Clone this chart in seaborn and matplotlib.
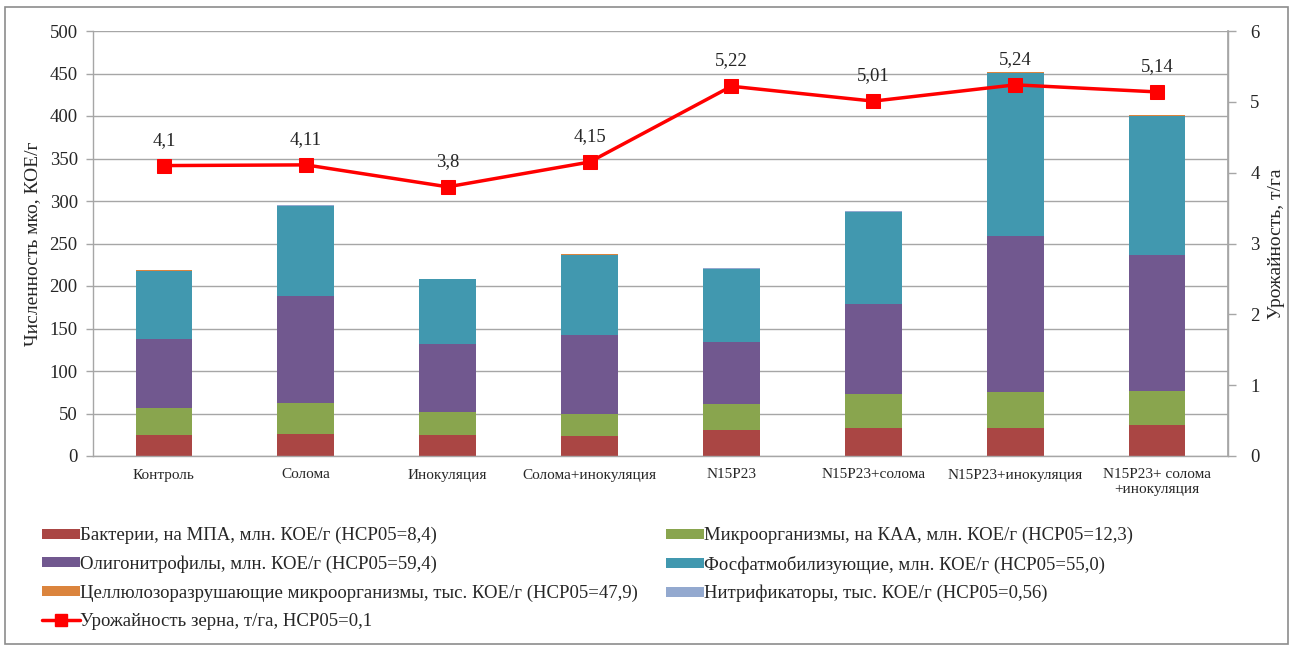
import matplotlib
matplotlib.use("Agg")
import matplotlib.pyplot as plt
import numpy as np
import pandas as pd
import seaborn as sns
from matplotlib.lines import Line2D
from matplotlib.patches import Patch, Rectangle

# ---------------------------------------------------------------------------
# Data
# ---------------------------------------------------------------------------
CATEGORIES = [
    "Контроль",
    "Солома",
    "Инокуляция",
    "Солома+инокуляция",
    "N15P23",
    "N15P23+солома",
    "N15P23+инокуляция",
    "N15P23+ солома\n+инокуляция",
]
BACTERIA = [25, 26, 25, 24, 31, 33, 33, 37]
KAA = [32, 36, 27, 25, 30, 40, 42, 40]
OLIGO = [81, 126, 80, 93, 73, 106, 184, 160]
PHOSPH = [80, 106, 76, 95, 86, 108, 192, 163]
CELLULOSE = [0.6, 0.5, 0.5, 0.6, 0.5, 0.5, 0.6, 1.2]
NITRIF = [0.3, 0.3, 0.3, 0.3, 0.3, 0.3, 0.3, 0.3]
YIELD = [4.1, 4.11, 3.8, 4.15, 5.22, 5.01, 5.24, 5.14]
YIELD_LABELS = ["4,1", "4,11", "3,8", "4,15", "5,22", "5,01", "5,24", "5,14"]

SERIES = [
    ("Бактерии, на МПА, млн. КОЕ/г (НСР05=8,4)", BACTERIA, "#AA4644"),
    ("Микроорганизмы, на КАА, млн. КОЕ/г (НСР05=12,3)", KAA, "#89A54E"),
    ("Олигонитрофилы, млн. КОЕ/г (НСР05=59,4)", OLIGO, "#71588F"),
    ("Фосфатмобилизующие, млн. КОЕ/г (НСР05=55,0)", PHOSPH, "#4198AF"),
    ("Целлюлозоразрушающие микроорганизмы, тыс. КОЕ/г (НСР05=47,9)", CELLULOSE, "#DB843D"),
    ("Нитрификаторы, тыс. КОЕ/г (НСР05=0,56)", NITRIF, "#93A9CF"),
]
LINE_LABEL = "Урожайность зерна, т/га, НСР05=0,1"

GRID = "#a6a6a6"
W, H = 1290, 648

sns.set_theme(style="white")
plt.rcParams["font.family"] = ["Liberation Serif", "DejaVu Serif"]

fig = plt.figure(figsize=(W / 100, H / 100), dpi=100)
ax = fig.add_axes([93 / W, 1 - 456 / H, (1228 - 93) / W, (456 - 31) / H])

# stacked bars: draw cumulative totals from the top layer down
x = np.arange(len(CATEGORIES))
cum = np.cumsum(np.array([s[1] for s in SERIES], dtype=float), axis=0)
for i in range(len(SERIES) - 1, -1, -1):
    df = pd.DataFrame({"x": x, "v": cum[i]})
    sns.barplot(data=df, x="x", y="v", color=SERIES[i][2], saturation=1,
                width=0.4, ax=ax, native_scale=True, linewidth=0)

ax.set_xlim(-0.5, len(CATEGORIES) - 0.5)
ax.set_ylim(0, 500)
ax.set_yticks(np.arange(0, 501, 50))
ax.yaxis.grid(True, color=GRID, linewidth=1.0)
ax.set_axisbelow(True)
ax.set_xticks(x)
ax.set_xticklabels(CATEGORIES, fontsize=11)
ax.set_xticks(np.arange(-0.5, len(CATEGORIES), 1.0), minor=True)
ax.tick_params(axis="x", which="major", length=0, pad=9)
ax.tick_params(axis="x", which="minor", length=5, color=GRID, width=1)
ax.tick_params(axis="y", length=5, color=GRID, width=1, labelsize=13.5, pad=6, left=True)
ax.set_xlabel("")
ax.set_ylabel("Численность мко, КОЕ/г", fontsize=14, labelpad=6)
ax.spines["top"].set_visible(False)
for side in ["left", "bottom", "right"]:
    ax.spines[side].set_color(GRID)
    ax.spines[side].set_linewidth(1.0)

# yield line on secondary axis
ax2 = ax.twinx()
sns.lineplot(x=x, y=YIELD, ax=ax2, color="#FF0000", linewidth=2.5,
             marker="s", markersize=10, markeredgecolor="#FF0000")
ax2.set_ylim(0, 6)
ax2.set_yticks(range(0, 7))
ax2.tick_params(axis="y", length=6, color=GRID, width=1, labelsize=13.5, pad=10, right=True)
ax2.set_ylabel("Урожайность, т/га", fontsize=14, labelpad=6)
for side in ["top", "left", "bottom"]:
    ax2.spines[side].set_visible(False)
ax2.spines["right"].set_color(GRID)
ax2.grid(False)
for xi, yi, lab in zip(x, YIELD, YIELD_LABELS):
    ax2.annotate(lab, (xi, yi), xytext=(0, 12), textcoords="offset points",
                 ha="center", va="bottom", fontsize=13.5)

# legend in two columns below the chart
bar_handles = [Patch(facecolor=c, edgecolor="none", label=l) for l, _, c in SERIES]
line_handle = Line2D([], [], color="#FF0000", linewidth=2.5, marker="s",
                     markersize=9, label=LINE_LABEL)
left_col = [bar_handles[0], bar_handles[2], bar_handles[4], line_handle]
right_col = [bar_handles[1], bar_handles[3], bar_handles[5]]
common = dict(frameon=False, fontsize=13.5, handlelength=2.0, handleheight=0.45,
              handletextpad=0.05, labelspacing=0.6, borderaxespad=0, borderpad=0)
fig.legend(handles=left_col, loc="upper left",
           bbox_to_anchor=(42 / W, 1 - 527 / H), **common)
fig.legend(handles=right_col, loc="upper left",
           bbox_to_anchor=(666 / W, 1 - 527 / H), **common)

# outer chart border
fig.patches.append(Rectangle((5 / W, 4 / H), 1283 / W, 637 / H,
                             transform=fig.transFigure, fill=False,
                             edgecolor="#8c8c8c", linewidth=1.2))

fig.savefig("out.png", dpi=100)
